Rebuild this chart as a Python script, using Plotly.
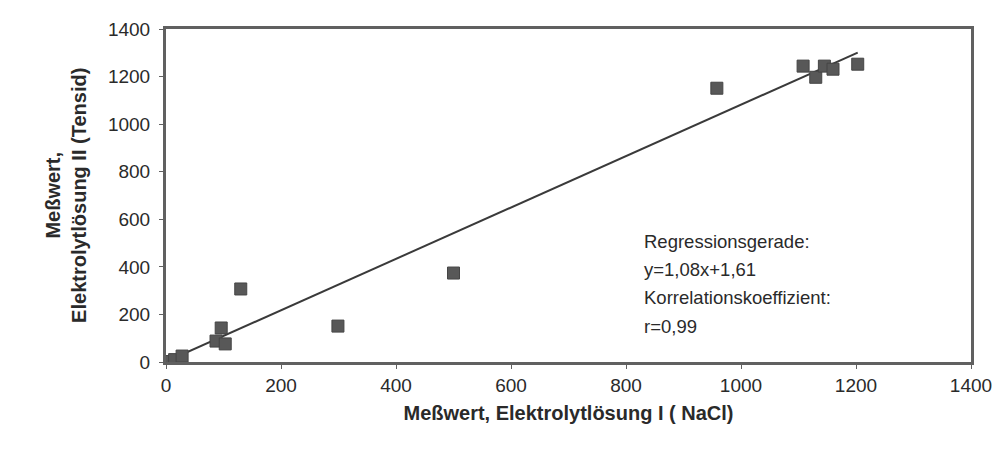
import plotly.graph_objects as go

# Data
x_nacl = [5, 15, 28, 87, 96, 103, 130, 299, 500, 958, 1108, 1130, 1145, 1160, 1203]
y_tensid = [2, 10, 25, 88, 143, 76, 307, 151, 374, 1151, 1244, 1197, 1244, 1231, 1252]
slope = 1.08
intercept = 1.61
x_ticks = [0, 200, 400, 600, 800, 1000, 1200, 1400]
y_ticks = [0, 200, 400, 600, 800, 1000, 1200, 1400]
annotation_lines = ["Regressionsgerade:", "y=1,08x+1,61", "Korrelationskoeffizient:", "r=0,99"]

line_x = [0, max(x_nacl)]
line_y = [slope * v + intercept for v in line_x]

font = "Liberation Sans, Arial, sans-serif"
axcol = "#606060"
txtcol = "#2a2a2a"

fig = go.Figure()
fig.add_trace(go.Scatter(x=line_x, y=line_y, mode="lines",
                         line=dict(color="#3a3a3a", width=2), showlegend=False,
                         hoverinfo="skip"))
fig.add_trace(go.Scatter(x=x_nacl, y=y_tensid, mode="markers",
                         marker=dict(symbol="square", size=12, color="#585858",
                                     line=dict(color="#454545", width=1)),
                         showlegend=False))

for i, line in enumerate(annotation_lines):
    fig.add_annotation(x=827, y=508, xref="x", yref="y", xanchor="left", yanchor="middle",
                       yshift=-28.3 * i, align="left", showarrow=False, text=line,
                       font=dict(family=font, size=18.5, color=txtcol))

fig.add_annotation(x=-0.125, y=0.5, xref="paper", yref="paper", textangle=-90,
                   showarrow=False, xanchor="center", yanchor="middle",
                   text="<b>Meßwert,<br>Elektrolytlösung II (Tensid)</b>",
                   font=dict(family=font, size=20, color=txtcol))

fig.update_layout(
    width=994, height=449,
    margin=dict(l=166, r=23, t=29, b=87, autoexpand=False),
    paper_bgcolor="white", plot_bgcolor="white",
    font=dict(family=font, size=18, color=txtcol),
    xaxis=dict(range=[0, 1400], tickvals=x_ticks, ticktext=[str(v) for v in x_ticks],
               showgrid=False, zeroline=False, showline=True, linecolor=axcol,
               linewidth=3, mirror=True, ticks="outside", ticklen=4, tickcolor=axcol,
               tickfont=dict(size=19, color=txtcol),
               title=dict(text="<b>Meßwert, Elektrolytlösung I ( NaCl)</b>",
                          font=dict(size=20, color=txtcol), standoff=12)),
    yaxis=dict(range=[0, 1400], tickvals=y_ticks, ticktext=[str(v) for v in y_ticks],
               showgrid=False, zeroline=False, showline=True, linecolor=axcol,
               linewidth=3, mirror=True, ticks="outside", ticklen=4, tickcolor=axcol,
               ticklabelstandoff=5,
               tickfont=dict(size=19, color=txtcol)),
)

fig.write_html("out.html", config={"displayModeBar": False},
               post_script="document.body.style.margin='0';")
